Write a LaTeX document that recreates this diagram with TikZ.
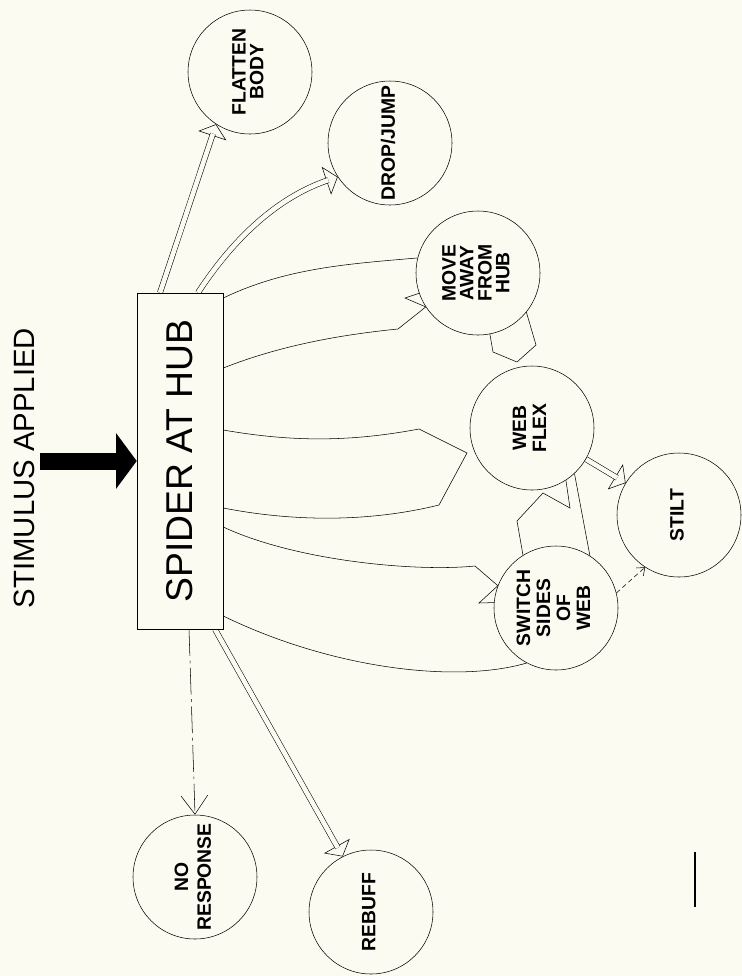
\documentclass[tikz,border=0pt]{standalone}
\usepackage{fontspec}
\setmainfont{Liberation Sans}
\usepackage{graphicx}
\usetikzlibrary{arrows.meta,calc}
\definecolor{bg}{RGB}{251,251,241}
\pgfdeclarelayer{bgfill}
\pgfdeclarelayer{edges}
\pgfsetlayers{bgfill,edges,main}
\newcommand{\clab}[2]{\rotatebox{90}{\fontsize{14.5}{#1}\selectfont\bfseries\begin{tabular}{@{}c@{}}#2\end{tabular}}}
\begin{document}
\begin{tikzpicture}[x=0.75pt,y=-0.75pt,line width=1.5pt,
  state/.style={circle,draw,fill=bg,minimum size=93pt,inner sep=0pt},
  headtip/.style={-{Triangle[open,fill=bg,length=9pt,width=22pt]}},
  dblshaft/.style={double=bg,double distance=3.5pt,shorten >=7.5pt},
  dashdot/.style={dash pattern=on 20pt off 3.5pt on 2pt off 3.5pt,-{Straight Barb[length=14pt,width=20pt]}},
  shortdash/.style={dash pattern=on 3.5pt off 2.5pt,-{Straight Barb[length=5pt,width=8pt]}}]
\useasboundingbox (0,0) rectangle (742,976);
\begin{pgfonlayer}{bgfill}
\fill[bg] (0,0) rectangle (742,976);
\end{pgfonlayer}

% nodes
\node[draw,fill=bg,rectangle,minimum width=64.5pt,minimum height=252pt,inner sep=0pt] (hub) at (180,461) {};
\node[rotate=90,font=\fontsize{28}{30}\selectfont] (hubtext) at (hub.center) {SPIDER AT HUB};
\node[rotate=90,font=\fontsize{22}{26}\selectfont] (stimtext) at (24,468) {STIMULUS APPLIED};
\node[state] (flat) at (250,72) {\clab{10.5pt}{FLATTEN\\BODY}};
\node[state] (drop) at (390,143) {\clab{11pt}{DROP/JUMP}};
\node[state] (move) at (478,273) {\clab{11.3pt}{MOVE\\AWAY\\FROM\\HUB}};
\node[state] (flex) at (532,428) {\clab{15pt}{WEB\\FLEX}};
\node[state] (stilt) at (679,515) {\clab{11pt}{STILT}};
\node[state] (switch) at (556,608) {\clab{15pt}{SWITCH\\SIDES\\OF\\WEB}};
\node[state] (nores) at (195,877) {\clab{17pt}{NO\\RESPONSE}};
\node[state] (rebuff) at (371,912) {\clab{11pt}{REBUFF}};
\coordinate (stim) at (40,461);
\coordinate (sbtop) at (695,852);
\coordinate (sbbot) at (695,907);

\begin{pgfonlayer}{edges}
% stimulus arrow
\draw[line width=12.75pt,-{Triangle[length=15.5pt 0 0,width=41pt 0 0]}] (stim) -- (hub.west);
% flatten body
\draw[headtip] (hub.north -| 160,0) -- (flat.237);
\draw[dblshaft] (hub.north -| 160,0) -- (flat.237);
% drop/jump
\draw[headtip] (hub.north -| 198,0) .. controls (243,224) and (290,193) .. (drop.213);
\draw[dblshaft] (hub.north -| 198,0) .. controls (243,224) and (290,193) .. (drop.213);
% move away from hub (broad arrow)
\draw (hub.east |- 0,298) .. controls (286,268) and (347,264) .. (move.166);
\draw (hub.east |- 0,368) .. controls (279,346) and (338,335) .. (398,329) -- (move.213);
\draw (move.199) -- (405,298) -- (move.213);
% web flex (broad arrow)
\draw (hub.east |- 0,430) .. controls (292,442) and (350,442) .. (419,429) -- (467,453) -- (439,505) .. controls (370,522) and (295,522) .. (hub.east |- 0,508);
% switch sides (broad arrow)
\draw (hub.east |- 0,527) .. controls (296,561) and (416,572) .. (475,566) -- (switch.159);
\draw (switch.175) -- (479,603) -- (switch.159);
\draw (hub.east |- 0,616) .. controls (330,668) and (455,684) .. (switch.242);
% move -> web flex
\draw (move.281) -- (493,352) -- (517,362) -- (536,345) -- (move.321);
% switch -> web flex
\draw (switch.122) -- (517,521) -- (543,493) -- (570,508) -- (flex.303);
\draw (switch.57) -- (flex.313);
% web flex -> stilt
\draw[headtip] (flex.330) -- (stilt.149);
\draw[dblshaft] (flex.330) -- (stilt.149);
% switch -> stilt
\draw[shortdash] (switch.14) -- (stilt.237);
% no response
\draw[dashdot] (hub.south -| 189,0) -- (nores.north);
% rebuff
\draw[headtip] (hub.south -| 215,0) -- (rebuff.117);
\draw[dblshaft] (hub.south -| 215,0) -- (rebuff.117);
% scale bar
\draw[line width=1.8pt] (sbtop) -- (sbbot);
\end{pgfonlayer}
\end{tikzpicture}
\end{document}
